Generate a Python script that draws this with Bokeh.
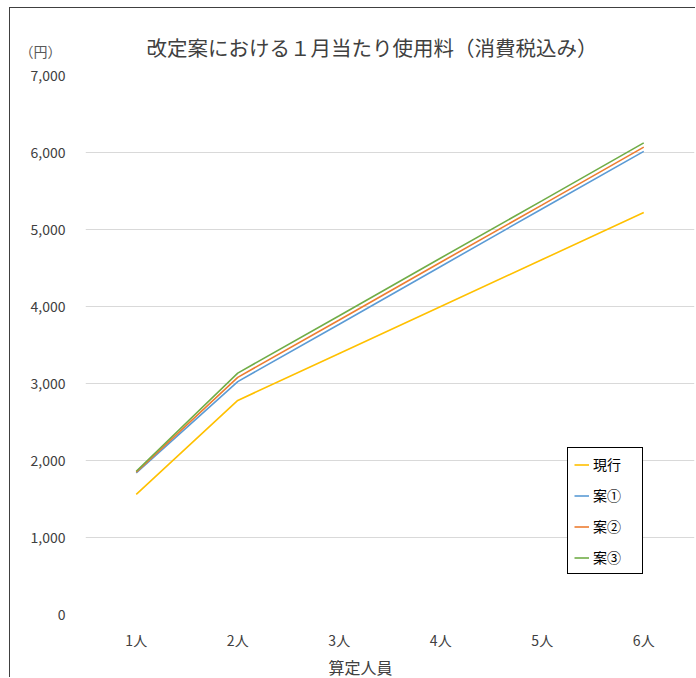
from bokeh.plotting import figure
from bokeh.models import FactorRange, Range1d, Label, Legend, LegendItem, NumeralTickFormatter, FixedTicker, Title
from bokeh.embed import file_html
from bokeh.resources import INLINE

categories = ["1人", "2人", "3人", "4人", "5人", "6人"]
genko = [1560, 2780, 3390, 4000, 4610, 5220]
an1 = [1840, 3025, 3770, 4520, 5270, 6015]
an2 = [1850, 3080, 3825, 4575, 5320, 6070]
an3 = [1860, 3135, 3880, 4630, 5375, 6125]
series_names = ["現行", "案①", "案②", "案③"]
y_ticks = [0, 1000, 2000, 3000, 4000, 5000, 6000, 7000]
title_text = "改定案における１月当たり使用料（消費税込み）"
unit_text = "（円）"
x_label_text = "算定人員"

FONT = "Noto Sans CJK JP"
TXT = "#404040"

p = figure(x_range=FactorRange(*categories, range_padding=0),
           y_range=Range1d(0, 7000),
           width=686, height=670, output_backend="svg", toolbar_location=None,
           min_border_left=75, min_border_right=2, min_border_top=67, min_border_bottom=63)
p.styles = {"border-left": "1px solid #404040", "border-top": "1px solid #404040",
            "margin-left": "9px", "margin-top": "7px"}
p.outline_line_color = None
p.background_fill_color = "white"
p.border_fill_color = "white"

colors = ["#FFC000", "#5B9BD5", "#ED7D31", "#70AD47"]
renderers = []
for vals, c in zip([genko, an1, an2, an3], colors):
    r = p.line(categories, vals, line_color=c, line_width=1.6)
    renderers.append(r)

# axes
p.xaxis.axis_line_color = None
p.yaxis.axis_line_color = None
p.xaxis.major_tick_line_color = None
p.yaxis.major_tick_line_color = None
p.xaxis.minor_tick_line_color = None
p.yaxis.minor_tick_line_color = None
p.yaxis.ticker = FixedTicker(ticks=y_ticks)
p.yaxis.formatter = NumeralTickFormatter(format="0,0")
p.yaxis.major_label_text_font = FONT
p.yaxis.major_label_text_font_size = "14px"
p.yaxis.major_label_text_color = TXT
p.yaxis.major_label_standoff = 14
p.xaxis.major_label_text_font = FONT
p.xaxis.major_label_text_font_size = "14px"
p.xaxis.major_label_text_color = TXT
p.xaxis.major_label_standoff = 9

p.xgrid.grid_line_color = None
p.ygrid.grid_line_color = "#D9D9D9"
p.ygrid.grid_line_width = 1

# title
p.title.text = title_text
p.title.text_font = FONT
p.title.text_font_size = "20.5px"
p.title.text_font_style = "normal"
p.title.text_color = TXT
p.title.align = "left"
p.title.offset = 61
p.title.standoff = -13

# unit label (above panel)
p.add_layout(Label(x=-66, y=25, x_units="screen", y_units="screen", text=unit_text,
                   text_font=FONT, text_font_size="14px", text_color="#595959",
                   text_baseline="middle", text_align="left"), "above")

# x label
p.add_layout(Title(text=x_label_text, text_font=FONT, text_font_size="16px",
                   text_font_style="normal", text_color=TXT, align="left", offset=243,
                   standoff=0), "below")

legend = Legend(items=[LegendItem(label=n, renderers=[r]) for n, r in zip(series_names, renderers)],
                location=(482, 40), orientation="vertical",
                border_line_color="black", border_line_width=1, border_line_alpha=1,
                background_fill_color="white", background_fill_alpha=1,
                padding=6, margin=0, spacing=11, glyph_width=15, glyph_height=17,
                label_height=17, label_width=43, label_standoff=4,
                label_text_font=FONT, label_text_font_size="14px", label_text_color="black")
p.add_layout(legend)

open("out.html", "w").write(file_html(p, INLINE))
